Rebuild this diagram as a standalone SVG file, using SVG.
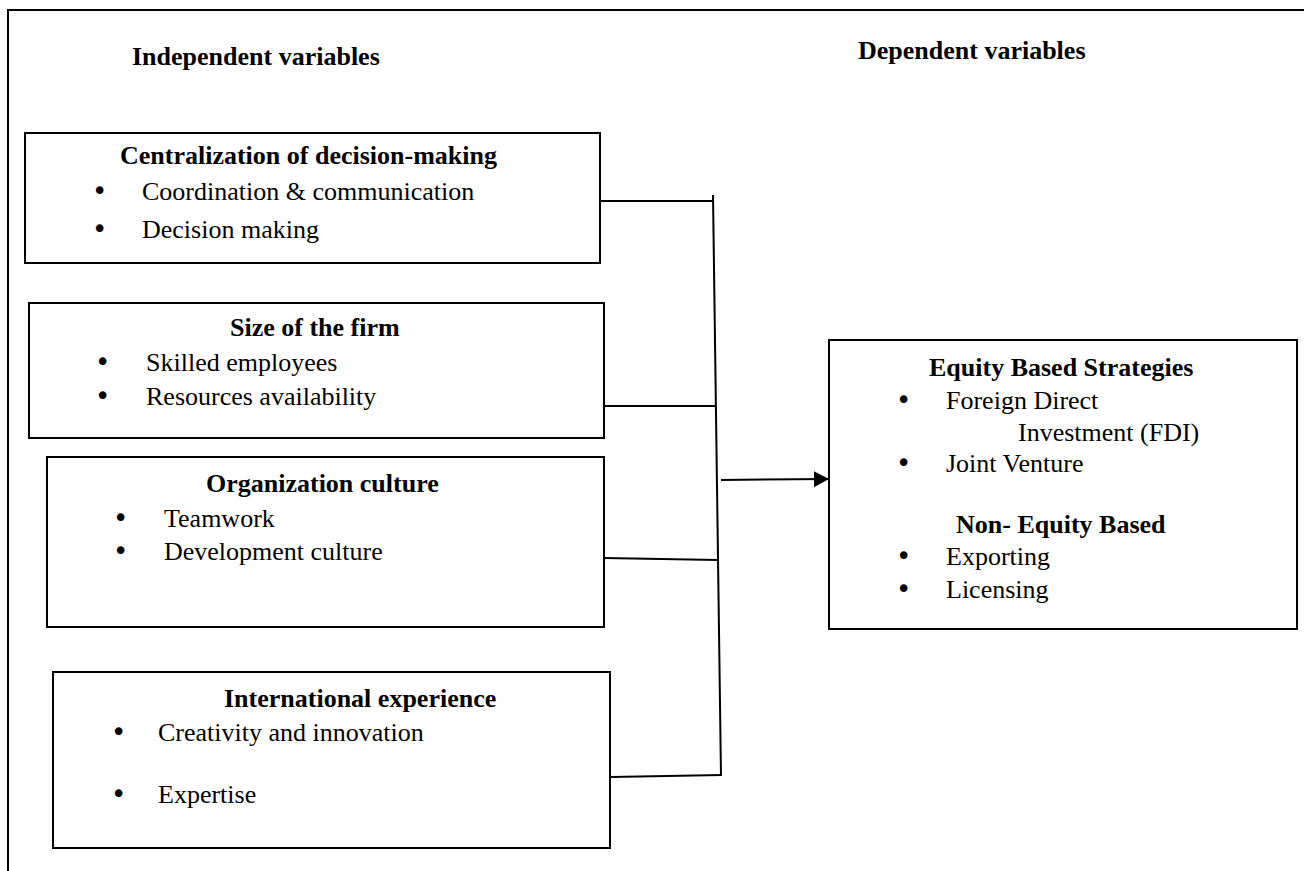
<svg xmlns="http://www.w3.org/2000/svg" width="1304" height="871" viewBox="0 0 1304 871">
<defs>
<style>
.t{font-family:"Liberation Serif","Times New Roman",serif;font-size:26px;fill:#000}
.b{font-weight:bold}
.u{font-family:"DejaVu Sans","Liberation Sans",sans-serif;font-size:26px;fill:#000}
.box{fill:#fff;stroke:#000;stroke-width:2}
.ln{stroke:#000;stroke-width:2;fill:none}
</style>
<marker id="ah" markerWidth="16" markerHeight="16" refX="15" refY="8" orient="auto" markerUnits="userSpaceOnUse">
<path d="M0,0 L15,8 L0,16 Z" fill="#000"/>
</marker>
</defs>
<rect width="1304" height="871" fill="#fff"/>
<path class="ln" d="M8,871 V10 H1304"/>
<text class="t b" x="132" y="65">Independent variables</text>
<text class="t b" x="858" y="59">Dependent variables</text>

<g id="connectors">
<line class="ln" x1="600" y1="201" x2="713" y2="201"/>
<line class="ln" x1="713" y1="195" x2="721" y2="776"/>
<line class="ln" x1="604" y1="406" x2="716" y2="406"/>
<line class="ln" x1="604" y1="558" x2="718" y2="560"/>
<line class="ln" x1="611" y1="777" x2="722" y2="775"/>
<line class="ln" x1="721" y1="480" x2="829" y2="479" marker-end="url(#ah)"/>
</g>

<g id="n1">
<rect class="box" x="25" y="133" width="575" height="130"/>
<text class="t b" x="120" y="164">Centralization of decision-making</text>
<text class="u" x="92" y="200">•</text><text class="t" x="142" y="200">Coordination &amp; communication</text>
<text class="u" x="92" y="238">•</text><text class="t" x="142" y="238">Decision making</text>
</g>

<g id="n2">
<rect class="box" x="29" y="303" width="575" height="135"/>
<text class="t b" x="230" y="336">Size of the firm</text>
<text class="u" x="95" y="371">•</text><text class="t" x="146" y="371">Skilled employees</text>
<text class="u" x="95" y="405">•</text><text class="t" x="146" y="405">Resources availability</text>
</g>

<g id="n3">
<rect class="box" x="47" y="457" width="557" height="170"/>
<text class="t b" x="206" y="492">Organization culture</text>
<text class="u" x="113" y="527">•</text><text class="t" x="164" y="527">Teamwork</text>
<text class="u" x="113" y="560">•</text><text class="t" x="164" y="560">Development culture</text>
</g>

<g id="n4">
<rect class="box" x="53" y="672" width="557" height="176"/>
<text class="t b" x="224" y="707">International experience</text>
<text class="u" x="111" y="741">•</text><text class="t" x="158" y="741">Creativity and innovation</text>
<text class="u" x="111" y="803">•</text><text class="t" x="158" y="803">Expertise</text>
</g>

<g id="n5">
<rect class="box" x="829" y="340" width="468" height="289"/>
<text class="t b" x="929" y="376">Equity Based Strategies</text>
<text class="u" x="896" y="409">•</text><text class="t" x="946" y="409">Foreign Direct</text>
<text class="t" x="1018" y="441">Investment (FDI)</text>
<text class="u" x="896" y="472">•</text><text class="t" x="946" y="472">Joint Venture</text>
<text class="t b" x="956" y="533">Non- Equity Based</text>
<text class="u" x="896" y="565">•</text><text class="t" x="946" y="565">Exporting</text>
<text class="u" x="896" y="598">•</text><text class="t" x="946" y="598">Licensing</text>
</g>
</svg>
